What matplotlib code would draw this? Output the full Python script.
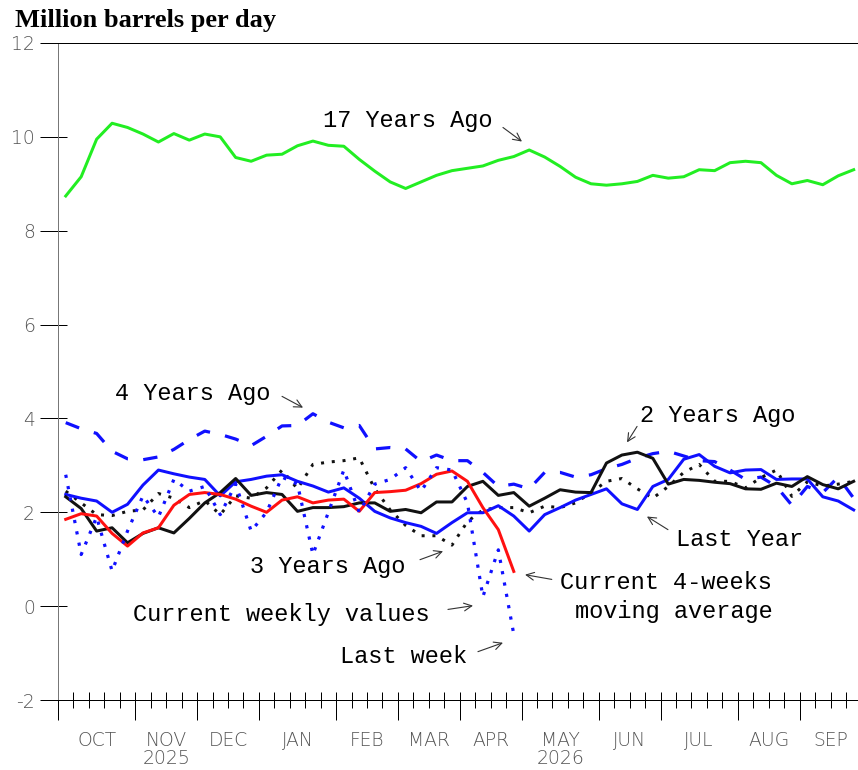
import numpy as np
import matplotlib
matplotlib.use("Agg")
import matplotlib.pyplot as plt
from matplotlib.ticker import FixedLocator, NullFormatter

# ---- data (million barrels per day, weekly) ----
weeks = np.arange(52) + 0.5
month_starts = [0, 5, 9, 13, 18, 22, 26, 30, 35, 39, 44, 48, 52]
month_labels = ["OCT", "NOV", "DEC", "JAN", "FEB", "MAR", "APR", "MAY", "JUN", "JUL", "AUG", "SEP"]
year_labels = {"NOV": "2025", "MAY": "2026"}
y_ticks = [-2, 0, 2, 4, 6, 8, 10, 12]

seventeen_years_ago = [8.74, 9.15, 9.95, 10.29, 10.20, 10.06, 9.89, 10.07, 9.93, 10.06,
                       10.00, 9.56, 9.48, 9.61, 9.63, 9.81, 9.91, 9.82, 9.80, 9.52,
                       9.27, 9.04, 8.90, 9.04, 9.18, 9.28, 9.33, 9.38, 9.50, 9.58,
                       9.72, 9.57, 9.37, 9.14, 9.00, 8.97, 9.00, 9.05, 9.18, 9.12,
                       9.15, 9.30, 9.28, 9.45, 9.48, 9.45, 9.18, 9.00, 9.07, 8.98,
                       9.17, 9.30]

four_years_ago = [3.91, 3.78, 3.68, 3.30, 3.14, 3.12, 3.18, 3.34, 3.55, 3.73,
                  3.66, 3.56, 3.42, 3.62, 3.84, 3.85, 4.10, 3.92, 3.80, 3.85,
                  3.35, 3.38, 3.35, 3.08, 3.22, 3.10, 3.10, 2.85, 2.55, 2.60,
                  2.50, 2.85, 2.85, 2.75, 2.80, 2.93, 3.02, 3.15, 3.25, 3.30,
                  3.20, 3.10, 3.08, 2.90, 2.70, 2.75, 2.55, 2.15, 2.55, 2.42,
                  2.75, 2.30]

three_years_ago = [2.45, 2.20, 1.95, 1.93, 2.02, 2.05, 2.40, 2.30, 2.10, 2.25,
                   1.95, 2.35, 2.30, 2.52, 2.90, 2.50, 3.02, 3.07, 3.10, 3.16,
                   2.50, 2.05, 1.72, 1.50, 1.50, 1.30, 1.80, 2.05, 2.10, 2.10,
                   1.99, 2.13, 2.10, 2.20, 2.42, 2.66, 2.72, 2.50, 2.30, 2.55,
                   2.85, 3.02, 2.66, 2.66, 2.52, 2.74, 2.90, 2.34, 2.65, 2.56,
                   2.60, 2.66]

two_years_ago = [2.33, 2.08, 1.60, 1.67, 1.35, 1.55, 1.67, 1.56, 1.87, 2.20,
                 2.42, 2.72, 2.36, 2.42, 2.38, 2.02, 2.10, 2.10, 2.12, 2.20,
                 2.20, 2.02, 2.06, 1.99, 2.22, 2.22, 2.55, 2.66, 2.36, 2.42,
                 2.13, 2.30, 2.48, 2.43, 2.42, 3.05, 3.22, 3.28, 3.15, 2.60,
                 2.70, 2.68, 2.64, 2.61, 2.50, 2.49, 2.62, 2.55, 2.76, 2.59,
                 2.50, 2.66]

last_year = [2.38, 2.30, 2.24, 2.00, 2.17, 2.58, 2.90, 2.82, 2.75, 2.70,
             2.35, 2.65, 2.70, 2.77, 2.80, 2.66, 2.56, 2.43, 2.52, 2.30,
             2.02, 1.88, 1.78, 1.70, 1.55, 1.78, 1.99, 1.99, 2.14, 1.92,
             1.60, 1.95, 2.10, 2.26, 2.38, 2.50, 2.18, 2.06, 2.55, 2.70,
             3.13, 3.23, 2.98, 2.84, 2.90, 2.91, 2.70, 2.71, 2.71, 2.33,
             2.24, 2.05]

current_weekly = [2.80, 1.10, 1.90, 0.75, 1.60, 2.35, 1.90, 2.70, 2.45, 2.55,
                  1.95, 2.60, 1.60, 2.00, 2.75, 2.60, 1.10, 2.00, 2.90, 2.00,
                  2.60, 2.70, 2.95, 2.45, 2.95, 2.90, 2.20, 0.20, 1.20, -0.60]

current_4wk_avg = [1.85, 1.97, 1.92, 1.55, 1.28, 1.56, 1.67, 2.15, 2.38, 2.42,
                   2.38, 2.28, 2.13, 2.00, 2.26, 2.33, 2.20, 2.26, 2.28, 2.02,
                   2.42, 2.44, 2.47, 2.61, 2.81, 2.88, 2.66, 2.10, 1.63, 0.74]

# ---- figure / axes ----
W, H = 858, 770
fig = plt.figure(figsize=(W / 100, H / 100), dpi=100)
ax = fig.add_axes([58 / W, 70 / H, 800 / W, 657 / H])
ax.set_xlim(0, 800 / 15.45)
ax.set_ylim(-2, 12)

px = 72 / 100  # points per pixel
blue = "#1010ff"
dots = (0, (1, 2.6))

cur_x = weeks[:len(current_weekly)]
ax.plot(weeks, seventeen_years_ago, color="#22ee22", lw=3.0 * px, solid_joinstyle="round")
ax.plot(weeks, four_years_ago, color=blue, lw=3.2 * px, linestyle=(0, (4.5, 4.8)), dash_capstyle="butt")
ax.plot(weeks, three_years_ago, color="#111111", lw=3.0 * px, linestyle=dots, dash_capstyle="butt")
ax.plot(weeks, last_year, color=blue, lw=3.0 * px)
ax.plot(weeks, two_years_ago, color="#111111", lw=3.0 * px)
ax.plot(cur_x, current_4wk_avg, color="#ff1010", lw=3.0 * px)
ax.plot(cur_x, current_weekly, color=blue, lw=3.2 * px, linestyle=dots, dash_capstyle="butt")

# ---- spines and ticks ----
ax.spines["right"].set_visible(False)
ax.spines["left"].set_color("#777777")
for s in ("top", "bottom"):
    ax.spines[s].set_color("black")
for s in ax.spines.values():
    s.set_linewidth(1.0 * px)

ax.yaxis.set_major_locator(FixedLocator(y_ticks))
ax.yaxis.set_minor_locator(FixedLocator(y_ticks))
ax.yaxis.remove_overlapping_locs = False
ax.set_yticklabels([str(v) for v in y_ticks])
ax.tick_params(axis="y", which="major", direction="out", length=18 * px, width=1.0 * px,
               color="black", pad=5 * px, labelsize=13.5, labelcolor="#555555")
ax.tick_params(axis="y", which="minor", direction="in", length=9 * px, width=1.0 * px,
               color="black")

ax.xaxis.set_major_locator(FixedLocator(month_starts[:-1]))
ax.xaxis.set_minor_locator(FixedLocator(list(range(0, 52))))
ax.xaxis.remove_overlapping_locs = False
ax.xaxis.set_major_formatter(NullFormatter())
ax.tick_params(axis="x", which="major", direction="out", length=20 * px, width=1.0 * px, color="black")
ax.tick_params(axis="x", which="minor", direction="inout", length=16 * px, width=1.0 * px, color="black")

for lab in ax.get_yticklabels():
    lab.set_fontweight("light")

# month and year labels under the axis
for i, lab in enumerate(month_labels):
    mid = (month_starts[i] + month_starts[i + 1]) / 2
    ax.annotate(lab, xy=(mid, 0), xycoords=("data", "axes fraction"),
                xytext=(0, -31 * px), textcoords="offset points",
                ha="center", va="top", fontsize=13.5, color="#555555", fontweight="light")
    if lab in year_labels:
        ax.annotate(year_labels[lab], xy=(mid, 0), xycoords=("data", "axes fraction"),
                    xytext=(0, -49.5 * px), textcoords="offset points",
                    ha="center", va="top", fontsize=13.5, color="#555555", fontweight="light")

# title
fig.text(15 / W, 1 - 9 / H, "Million barrels per day", ha="left", va="top",
         fontsize=19, fontweight="bold", family="Liberation Serif")

# ---- series labels with arrows ----
lbl = dict(family="Liberation Mono", fontsize=17, color="black", ha="left", va="center")
labels = [
    ("17 Years Ago", (17.15, 10.35), (28.8, 10.2), (30.03, 9.9)),
    ("4 Years Ago", (3.69, 4.53), (14.5, 4.47), (15.86, 4.23)),
    ("2 Years Ago", (37.67, 4.06), (37.48, 3.83), (36.83, 3.49)),
    ("Last Year", (40.0, 1.42), (39.48, 1.63), (38.12, 1.91)),
    ("3 Years Ago", (12.43, 0.84), (23.43, 0.99), (24.92, 1.17)),
    ("Current weekly values", (4.85, -0.18), (25.24, -0.07), (26.86, 0.01)),
    ("Last week", (18.25, -1.07), (27.18, -0.97), (28.8, -0.78)),
    ("Current 4-weeks", (32.49, 0.5), (31.96, 0.57), (30.23, 0.67)),
]
for text, pos, tail, head in labels:
    ax.text(pos[0], pos[1], text, **lbl)
    ax.annotate("", xy=head, xytext=tail,
                arrowprops=dict(arrowstyle="->", color="#333333", lw=0.8,
                                mutation_scale=14, shrinkA=0, shrinkB=0))
ax.text(33.46, -0.12, "moving average", **lbl)

fig.savefig("out.png", dpi=100)
